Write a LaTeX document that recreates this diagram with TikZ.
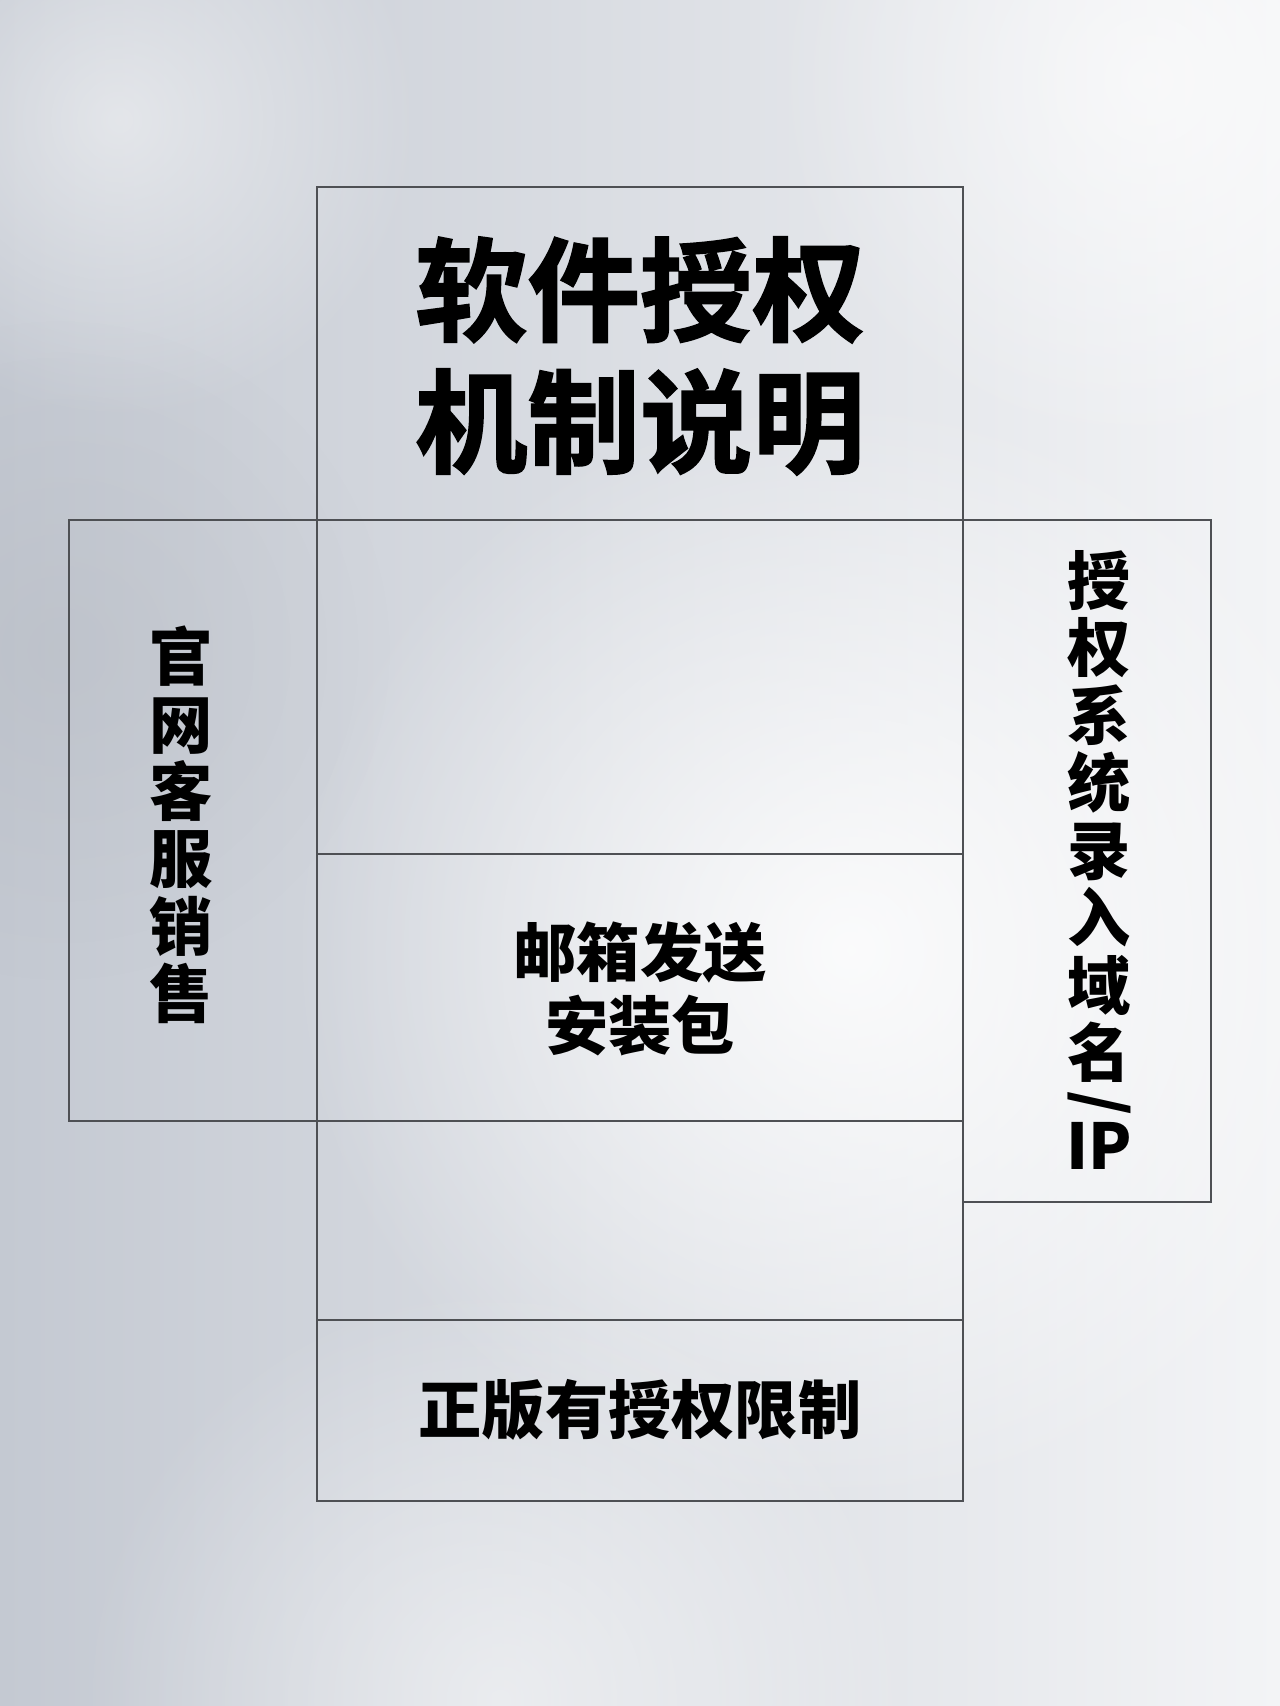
\documentclass[tikz,border=0pt]{standalone}
\usepackage{fontspec}
\usepackage{tikz}
\usetikzlibrary{fadings}
\newfontfamily\cjk{Noto Sans CJK SC}
\newfontfamily\cjkheavy{Noto Sans CJK SC Bold}[FakeBold=1.6]
\definecolor{bgdark}{HTML}{C4C9D2}
\definecolor{bglight}{HTML}{F3F4F6}
\definecolor{edgegray}{HTML}{4E5054}
\tikzfading[name=glowfade, inner color=transparent!0, outer color=transparent!100]

\begin{document}
\begin{tikzpicture}[x=0.1mm, y=-0.1mm,
    cell/.style={draw=edgegray, line width=0.35pt, inner sep=0pt, minimum width=64.6mm},
    sidecell/.style={draw=edgegray, line width=0.35pt, inner sep=0pt, minimum width=24.8mm},
    bigtext/.style={font=\cjkheavy\fontsize{32}{37.5}\selectfont, align=center},
    midtext/.style={font=\cjk\bfseries\fontsize{18}{21}\selectfont, align=center},
    talltext/.style={font=\cjk\bfseries\fontsize{18}{19.2}\selectfont, align=center}]
    \useasboundingbox (0,0) rectangle (1280,1706);

    % background
    \shade[left color=bgdark, right color=bglight] (0,0) rectangle (1280,1706);
    \fill[white, opacity=0.85, path fading=glowfade] (850,950) circle (560);
    \fill[white, opacity=0.6, path fading=glowfade] (1150,80) circle (380);
    \fill[white, opacity=0.5, path fading=glowfade] (500,1700) circle (420);
    \fill[white, opacity=0.5, path fading=glowfade] (120,120) circle (300);
    \fill[bgdark!85!black, opacity=0.25, path fading=glowfade] (60,650) circle (330);

    % boxes
    \node[cell, minimum height=33.3mm] (title) at (640,353.5) {};
    \node[cell, minimum height=33.4mm] (upper) at (640,687) {};
    \node[cell, minimum height=26.7mm] (mail) at (640,987.5) {};
    \node[cell, minimum height=19.9mm] (lower) at (640,1220.5) {};
    \node[cell, minimum height=18.1mm] (limit) at (640,1410.5) {};
    \node[sidecell, minimum height=60.1mm] (sales) at (193,820.5) {};
    \node[sidecell, minimum height=68.2mm] (ip) at (1087,861) {};

    % texts
    \node[bigtext] (titletext) at (640,356) {软件授权\\机制说明};
    \node[midtext] (mailtext) at (640,989) {邮箱发送\\安装包};
    \node[midtext] (limittext) at (640,1410) {正版有授权限制};
    \node[talltext] (salestext) at (181,825) {官\\网\\客\\服\\销\\售};
    \node[talltext] (iptext) at (1099,860)
        {授\\权\\系\\统\\录\\入\\域\\名\\[-6pt]\smash{\rotatebox[origin=c]{-90}{/}}\\[-6pt]IP};
\end{tikzpicture}
\end{document}
